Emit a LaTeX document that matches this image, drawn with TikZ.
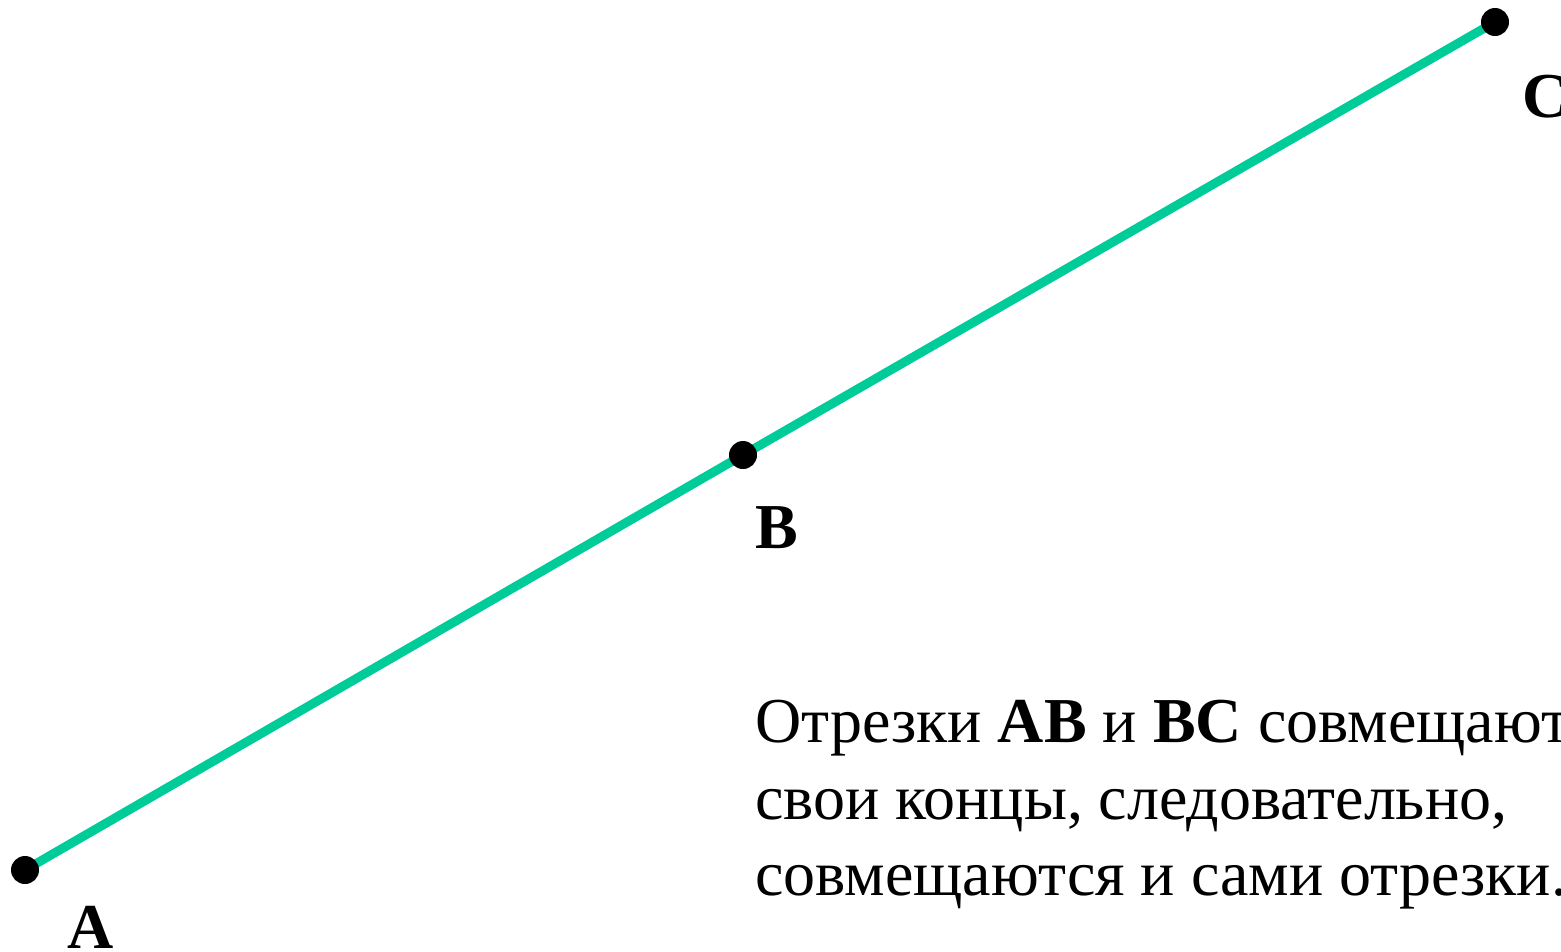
\documentclass[tikz,border=0pt]{standalone}
\usepackage{fontspec}
\setmainfont{Liberation Serif}
\definecolor{seg}{RGB}{0,204,153}
\begin{document}
\begin{tikzpicture}[x=1pt,y=-1pt,
  dot/.style={circle,fill=black,inner sep=0pt,minimum size=28pt},
  lbl/.style={font=\fontsize{64}{77}\selectfont\bfseries,inner sep=0pt,anchor=base west},
  txt/.style={font=\fontsize{64}{77}\selectfont,inner sep=0pt,anchor=base west}]
\useasboundingbox (0,0) rectangle (1561,951);
\coordinate (A) at (25,870);
\coordinate (B) at (743,455);
\coordinate (C) at (1495,22);
\draw[seg,line width=9pt] (A) -- (B) -- (C);
\node[dot] (dA) at (A) {};
\node[dot] (dB) at (B) {};
\node[dot] (dC) at (C) {};
\node[lbl] (lA) at (67,948) {A};
\node[lbl] (lB) at (755,548) {B};
\node[lbl] (lC) at (1522,117) {C};
\node[txt] (t1) at (755,742) {Отрезки \textbf{AB} и \textbf{BC} совмещаются};
\node[txt] (t2) at (755,819) {свои концы, следовательно,};
\node[txt] (t3) at (755,895) {совмещаются и сами отрезки.};
\end{tikzpicture}
\end{document}
